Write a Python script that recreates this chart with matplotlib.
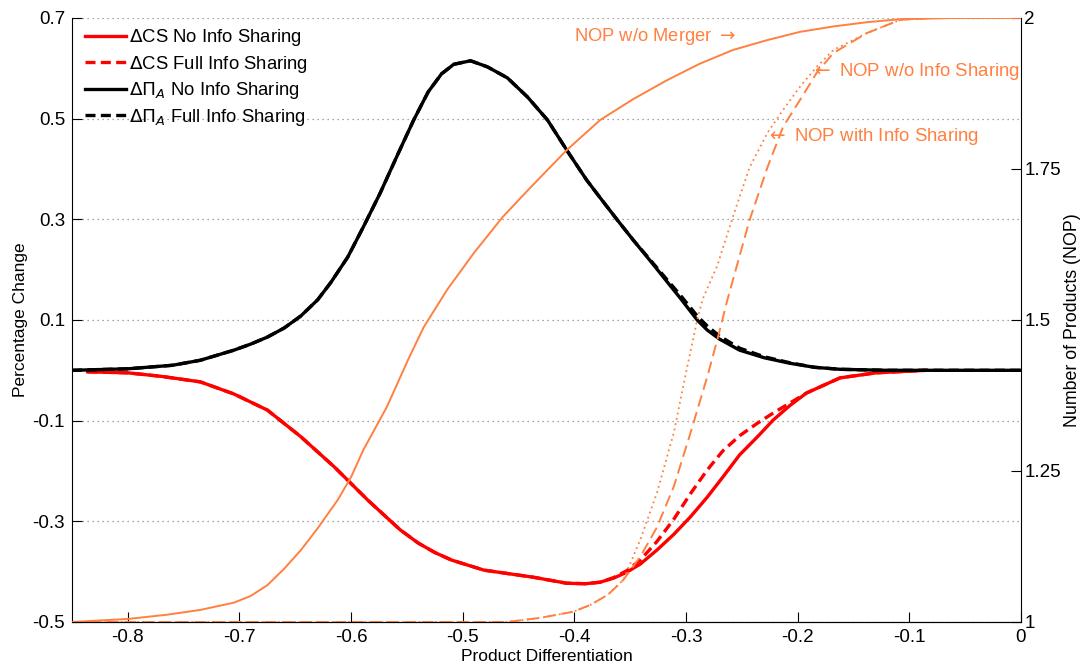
import numpy as np
import matplotlib
matplotlib.use("Agg")
import matplotlib.pyplot as plt

plt.rcParams['font.family'] = ['Liberation Sans', 'DejaVu Sans']
plt.rcParams['mathtext.fontset'] = 'dejavusans'

ORANGE = '#ff8040'

# --- Percentage change (left axis) ---
pi_x = [-0.85, -0.80, -0.76, -0.735, -0.705, -0.69, -0.675, -0.66, -0.645, -0.63,
        -0.618, -0.603, -0.589, -0.574, -0.558, -0.544, -0.531, -0.519, -0.508, -0.493,
        -0.478, -0.46, -0.442, -0.424, -0.407, -0.389, -0.377, -0.362, -0.347, -0.33,
        -0.317, -0.305, -0.29, -0.281, -0.27, -0.252, -0.23, -0.207, -0.185, -0.162,
        -0.12, 0.0]
pi_no = [0.0, 0.003, 0.01, 0.02, 0.04, 0.052, 0.066, 0.084, 0.108, 0.14,
         0.175, 0.225, 0.285, 0.352, 0.43, 0.497, 0.553, 0.589, 0.608, 0.615,
         0.603, 0.581, 0.543, 0.497, 0.438, 0.378, 0.343, 0.300, 0.258, 0.212,
         0.176, 0.143, 0.10, 0.08, 0.062, 0.04, 0.025, 0.014, 0.006, 0.002,
         0.0, 0.0]
pi_full = [0.0, 0.003, 0.01, 0.02, 0.04, 0.052, 0.066, 0.084, 0.108, 0.14,
           0.175, 0.225, 0.285, 0.352, 0.43, 0.497, 0.553, 0.589, 0.608, 0.615,
           0.603, 0.581, 0.543, 0.497, 0.438, 0.378, 0.343, 0.300, 0.258, 0.214,
           0.180, 0.149, 0.108, 0.088, 0.068, 0.044, 0.027, 0.015, 0.006, 0.002,
           0.0, 0.0]

cs_x = [-0.836, -0.80, -0.77, -0.735, -0.705, -0.675, -0.645, -0.615, -0.585, -0.556,
        -0.54, -0.525, -0.51, -0.481, -0.437, -0.407, -0.39, -0.377, -0.365, -0.353,
        -0.341, -0.326, -0.311, -0.296, -0.281, -0.267, -0.252, -0.236, -0.222, -0.207,
        -0.192, -0.162, -0.13, -0.085]
cs_no = [-0.003, -0.005, -0.012, -0.023, -0.047, -0.079, -0.132, -0.192, -0.258, -0.317,
         -0.343, -0.362, -0.377, -0.397, -0.411, -0.423, -0.424, -0.421, -0.413, -0.401,
         -0.385, -0.357, -0.326, -0.291, -0.252, -0.212, -0.168, -0.132, -0.099, -0.07,
         -0.045, -0.015, -0.005, 0.0]
cs_full = [-0.003, -0.005, -0.012, -0.023, -0.047, -0.079, -0.132, -0.192, -0.258, -0.317,
           -0.343, -0.362, -0.377, -0.397, -0.411, -0.423, -0.424, -0.421, -0.412, -0.398,
           -0.377, -0.34, -0.296, -0.245, -0.198, -0.16, -0.13, -0.105, -0.085, -0.065,
           -0.045, -0.015, -0.005, 0.0]

# --- Number of products (right axis) ---
nop_merger_x = [-0.85, -0.80, -0.765, -0.735, -0.705, -0.69, -0.675, -0.66, -0.645, -0.63,
                -0.612, -0.60, -0.589, -0.568, -0.549, -0.535, -0.514, -0.49, -0.464, -0.439,
                -0.407, -0.377, -0.347, -0.317, -0.288, -0.258, -0.228, -0.198, -0.168, -0.138,
                -0.108, -0.06, 0.0]
nop_merger = [1.0, 1.005, 1.012, 1.02, 1.032, 1.043, 1.061, 1.088, 1.119, 1.155,
              1.202, 1.24, 1.285, 1.356, 1.434, 1.488, 1.55, 1.611, 1.671, 1.72,
              1.781, 1.831, 1.866, 1.897, 1.924, 1.947, 1.963, 1.977, 1.986, 1.993,
              1.998, 2.0, 2.0]

nop_noinfo_x = [-0.85, -0.46, -0.43, -0.401, -0.386, -0.37, -0.356, -0.341, -0.326, -0.311,
                -0.296, -0.281, -0.272, -0.263, -0.243, -0.227, -0.213, -0.198, -0.183, -0.168,
                -0.138, -0.108, -0.08, 0.0]
nop_noinfo = [1.0, 1.0, 1.007, 1.017, 1.028, 1.045, 1.07, 1.108, 1.157, 1.224,
              1.313, 1.406, 1.467, 1.533, 1.666, 1.753, 1.82, 1.864, 1.909, 1.942,
              1.975, 1.997, 2.0, 2.0]

nop_info_x = [-0.85, -0.46, -0.43, -0.401, -0.386, -0.37, -0.356, -0.341, -0.326, -0.311,
              -0.299, -0.29, -0.285, -0.272, -0.258, -0.243, -0.227, -0.213, -0.198, -0.183,
              -0.168, -0.138, -0.108, -0.08, 0.0]
nop_info = [1.0, 1.0, 1.007, 1.017, 1.028, 1.045, 1.07, 1.136, 1.214, 1.313,
            1.422, 1.5, 1.535, 1.59, 1.671, 1.753, 1.81, 1.848, 1.886, 1.919,
            1.947, 1.975, 1.997, 2.0, 2.0]

left_ticks = [-0.5, -0.3, -0.1, 0.1, 0.3, 0.5, 0.7]
right_ticks = [1, 1.25, 1.5, 1.75, 2]
x_ticks = [-0.8, -0.7, -0.6, -0.5, -0.4, -0.3, -0.2, -0.1, 0]

fig = plt.figure(figsize=(10.86, 6.66), dpi=100)
ax = fig.add_axes([0.0663, 0.0661, 0.8738, 0.9069])

ax.plot(cs_x, cs_no, color='red', lw=2.4, label=r'$\Delta$CS No Info Sharing')
ax.plot(cs_x, cs_full, color='red', lw=2.4, ls=(0, (3, 1.6)), label=r'$\Delta$CS Full Info Sharing')
ax.plot(pi_x, pi_no, color='black', lw=2.4, label=r'$\Delta\Pi_A$ No Info Sharing')
ax.plot(pi_x, pi_full, color='black', lw=2.4, ls=(0, (3, 1.6)), label=r'$\Delta\Pi_A$ Full Info Sharing')

ax.set_xlim(-0.85, 0)
ax.set_ylim(-0.5, 0.7)
ax.set_xticks(x_ticks)
ax.set_xticklabels(['-0.8', '-0.7', '-0.6', '-0.5', '-0.4', '-0.3', '-0.2', '-0.1', '0'])
ax.set_yticks(left_ticks)
ax.set_yticklabels([f'{t:.1f}' for t in left_ticks])
ax.tick_params(direction='in', length=7, labelsize=13.5, pad=5)
ax.yaxis.grid(True, linestyle=(0, (1, 3)), color='#888888', lw=0.9)
ax.spines['top'].set_visible(False)
ax.spines['right'].set_visible(False)
ax.set_xlabel('Product Differentiation', fontsize=12.5, labelpad=2)
ax.set_ylabel('Percentage Change', fontsize=12.5, labelpad=3)

ax.legend(loc='upper left', bbox_to_anchor=(0.014, 0.985), frameon=False,
          fontsize=13.3, handlelength=2.2, handletextpad=0.15, labelspacing=0.3,
          borderaxespad=0, borderpad=0)

ax2 = ax.twinx()
ax2.plot(nop_merger_x, nop_merger, color=ORANGE, lw=1.4)
ax2.plot(nop_noinfo_x, nop_noinfo, color=ORANGE, lw=1.4, ls=(0, (6, 3)))
ax2.plot(nop_info_x, nop_info, color=ORANGE, lw=1.3, ls=(0, (1, 2)))
ax2.set_ylim(1, 2)
ax2.set_yticks(right_ticks)
ax2.set_yticklabels(['1', '1.25', '1.5', '1.75', '2'])
ax2.tick_params(direction='in', length=7, labelsize=13.5, pad=2.5)
ax2.spines['top'].set_visible(False)
ax2.spines['left'].set_visible(False)
ax2.set_ylabel('Number of Products (NOP)', fontsize=12.8, labelpad=2)

ax.text(-0.400, 0.664, r'NOP w/o Merger $\rightarrow$', color=ORANGE, fontsize=13.2,
        ha='left', va='center')
ax.text(-0.188, 0.593, r'$\leftarrow$ NOP w/o Info Sharing', color=ORANGE, fontsize=13.4,
        ha='left', va='center')
ax.text(-0.228, 0.464, r'$\leftarrow$ NOP with Info Sharing', color=ORANGE, fontsize=13.4,
        ha='left', va='center')

fig.savefig('out.png', dpi=100)
